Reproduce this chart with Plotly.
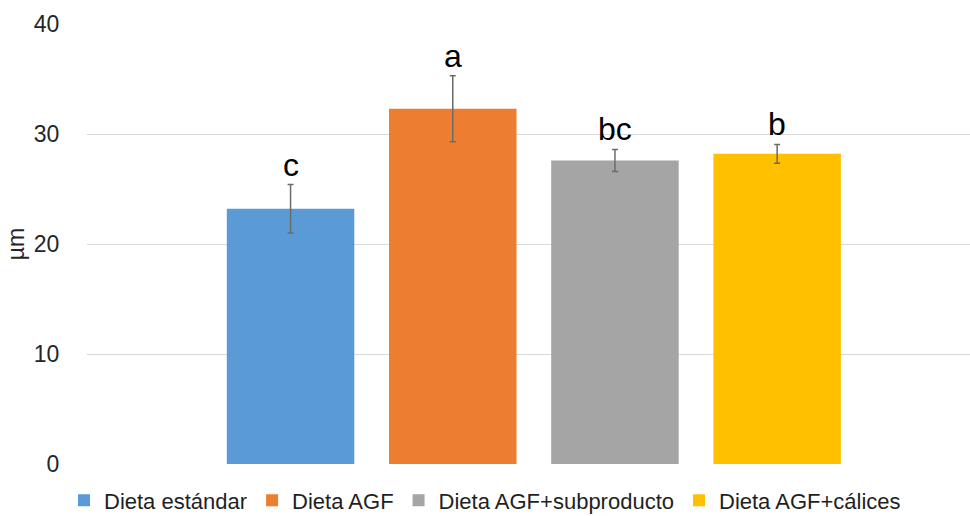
import plotly.graph_objects as go

categories = ["Dieta estándar", "Dieta AGF", "Dieta AGF+subproducto", "Dieta AGF+cálices"]
values = [23.2, 32.3, 27.6, 28.2]
errors = [2.2, 3.0, 1.0, 0.85]
letters = ["c", "a", "bc", "b"]
colors = ["#5B9BD5", "#ED7D31", "#A5A5A5", "#FFC000"]
y_ticks = [0, 10, 20, 30, 40]

FONT = "Liberation Sans, Arial, sans-serif"

fig = go.Figure()
for cat, v, e, c in zip(categories, values, errors, colors):
    fig.add_trace(go.Bar(
        x=[cat], y=[v], name=cat,
        marker=dict(color=c, line=dict(width=0)),
        error_y=dict(type="data", array=[e], visible=True,
                     color="#6b6b6b", thickness=1.5, width=3),
    ))

for cat, v, e, l in zip(categories, values, errors, letters):
    fig.add_annotation(x=cat, y=v + e, text=l, showarrow=False,
                       yanchor="bottom", yshift=0,
                       font=dict(family=FONT, size=32, color="#000000"))

fig.update_layout(
    width=970, height=516,
    margin=dict(l=87, r=0, t=24, b=52),
    paper_bgcolor="white", plot_bgcolor="white",
    barmode="overlay", bargap=0.214,
    font=dict(family=FONT, size=23, color="#262626"),
    xaxis=dict(type="category", categoryorder="array", categoryarray=categories,
               range=[-1.255, 4.189], showticklabels=False, showgrid=False,
               zeroline=False, showline=False, ticks=""),
    yaxis=dict(range=[0, 40], tickvals=y_ticks, showgrid=True,
               gridcolor="#d9d9d9", gridwidth=1, zeroline=False, showline=False,
               ticks="outside", ticklen=22, tickcolor="rgba(0,0,0,0)",
               tickfont=dict(family=FONT, size=23, color="#262626"),
               title=dict(text="µm", standoff=2,
                          font=dict(family=FONT, size=23, color="#262626"))),
    showlegend=True,
    legend=dict(orientation="h", xref="container", yref="container",
                x=0.5, xanchor="center", y=0.03, yanchor="middle",
                font=dict(family=FONT, size=22, color="#1f1f1f"),
                itemwidth=30, tracegroupgap=0, traceorder="normal"),
)

fig.write_html("out.html")
